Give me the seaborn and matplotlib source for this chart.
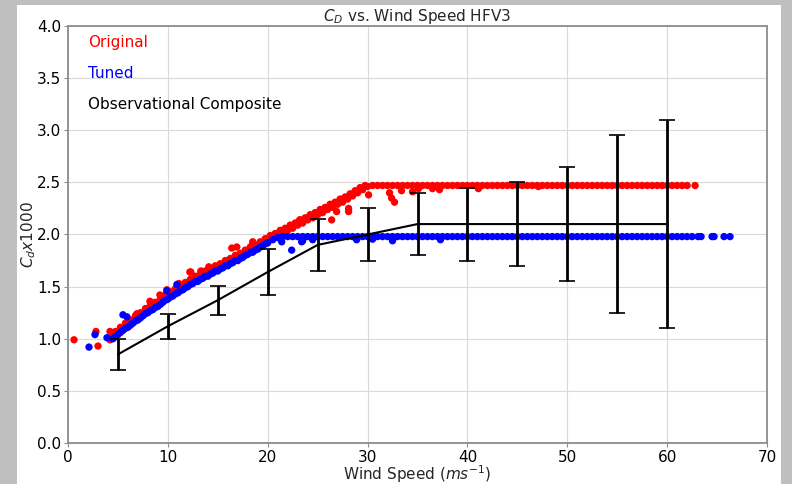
import matplotlib
matplotlib.use("Agg")
import matplotlib.pyplot as plt
from matplotlib.patches import Rectangle
import seaborn as sns
import numpy as np
import pandas as pd

# Original (red) scheme: sloped part, upper edge of the band, flat part, stray points
orig_x = [0.6, 2.8, 3.0, 4.2, 4.2,
          4.5, 5.0, 5.5, 6.0, 6.5, 7.0, 7.5, 8.0, 8.5, 9.0, 9.5, 10.0, 10.5, 11.0, 11.5, 12.0,
          12.5, 13.0, 13.5, 14.0, 14.5, 15.0, 15.5, 16.0, 16.5, 17.0, 17.5, 18.0, 18.5, 19.0,
          19.5, 20.0, 20.5, 21.0, 21.5, 22.0, 22.5, 23.0, 23.5, 24.0, 24.5, 25.0, 25.5, 26.0,
          26.5, 27.0, 27.5, 28.0, 28.5, 29.0, 29.5, 30.0,
          4.75, 5.25, 5.75, 6.25, 6.75, 7.25, 7.75, 8.25, 8.75, 9.25, 9.75, 10.25, 10.75, 11.25,
          11.75, 12.25, 12.75, 13.25, 13.75, 14.25, 14.75, 15.25, 15.75, 16.25, 16.75, 17.25,
          17.75, 18.25, 18.75, 19.25, 19.75, 20.25, 20.75, 21.25, 21.75, 22.25, 22.75, 23.25,
          23.75, 24.25, 24.75, 25.25, 25.75, 26.25, 26.75, 27.25, 27.75, 28.25, 28.75, 29.25,
          29.75,
          30.5, 31.0, 31.5, 32.0, 32.5, 33.0, 33.5, 34.0, 34.5, 35.0, 35.5, 36.0, 36.5, 37.0,
          37.5, 38.0, 38.5, 39.0, 39.5, 40.0, 40.5, 41.0, 41.5, 42.0, 42.5, 43.0, 43.5, 44.0,
          44.5, 45.0, 45.5, 46.0, 46.5, 47.0, 47.5, 48.0, 48.5, 49.0, 49.5, 50.0, 50.5, 51.0,
          51.5, 52.0, 52.5, 53.0, 53.5, 54.0, 54.5, 55.0, 55.5, 56.0, 56.5, 57.0, 57.5, 58.0,
          58.5, 59.0, 59.5, 60.0, 60.5, 61.0, 61.5, 62.0, 62.8,
          6.9, 8.2, 9.2, 9.9, 11.1, 12.2, 12.3, 13.3, 14.1, 16.4, 16.9, 18.5, 18.5, 23.2, 26.4,
          26.9, 28.1, 28.1, 30.1, 32.2, 32.4, 32.7, 33.4, 34.5, 35.1, 36.5, 37.2, 41.1, 47.1]
orig_y = [0.99, 1.07, 0.93, 1.07, 0.99,
          1.02, 1.06, 1.10, 1.13, 1.17, 1.20, 1.24, 1.27, 1.30, 1.33, 1.37, 1.40, 1.43, 1.46,
          1.49, 1.52, 1.55, 1.57, 1.60, 1.62, 1.65, 1.67, 1.70, 1.72, 1.75, 1.77, 1.80, 1.83,
          1.85, 1.88, 1.91, 1.94, 1.96, 1.99, 2.01, 2.04, 2.06, 2.09, 2.11, 2.14, 2.16, 2.19,
          2.21, 2.24, 2.26, 2.29, 2.31, 2.34, 2.37, 2.40, 2.43, 2.46,
          1.07, 1.11, 1.15, 1.18, 1.22, 1.25, 1.29, 1.32, 1.35, 1.38, 1.42, 1.45, 1.48, 1.51,
          1.54, 1.57, 1.60, 1.62, 1.65, 1.67, 1.70, 1.72, 1.75, 1.77, 1.80, 1.82, 1.85, 1.88,
          1.90, 1.93, 1.96, 1.99, 2.01, 2.04, 2.06, 2.09, 2.11, 2.14, 2.16, 2.19, 2.21, 2.24,
          2.26, 2.29, 2.31, 2.34, 2.36, 2.39, 2.42, 2.45, 2.47,
          2.47, 2.47, 2.47, 2.47, 2.47, 2.47, 2.47, 2.47, 2.47, 2.47, 2.47, 2.47, 2.47, 2.47,
          2.47, 2.47, 2.47, 2.47, 2.47, 2.47, 2.47, 2.47, 2.47, 2.47, 2.47, 2.47, 2.47, 2.47,
          2.47, 2.47, 2.47, 2.47, 2.47, 2.47, 2.47, 2.47, 2.47, 2.47, 2.47, 2.47, 2.47, 2.47,
          2.47, 2.47, 2.47, 2.47, 2.47, 2.47, 2.47, 2.47, 2.47, 2.47, 2.47, 2.47, 2.47, 2.47,
          2.47, 2.47, 2.47, 2.47, 2.47, 2.47, 2.47, 2.47, 2.47,
          1.24, 1.36, 1.42, 1.47, 1.53, 1.64, 1.64, 1.65, 1.69, 1.87, 1.88, 1.92, 1.93, 2.14,
          2.14, 2.22, 2.25, 2.22, 2.38, 2.40, 2.35, 2.31, 2.42, 2.41, 2.44, 2.44, 2.43, 2.44, 2.46]

# Tuned (blue) scheme
tuned_x = [2.1, 2.7, 3.9, 5.5, 5.9, 10.9, 9.9,
           4.5, 5.0, 5.5, 6.0, 6.5, 7.0, 7.5, 8.0, 8.5, 9.0, 9.5, 10.0, 10.5, 11.0, 11.5, 12.0,
           12.5, 13.0, 13.5, 14.0, 14.5, 15.0, 15.5, 16.0, 16.5, 17.0, 17.5, 18.0, 18.5, 19.0,
           19.5, 20.0,
           4.75, 5.25, 5.75, 6.25, 6.75, 7.25, 7.75, 8.25, 8.75, 9.25, 9.75, 10.25, 10.75, 11.25,
           11.75, 12.25, 12.75, 13.25, 13.75, 14.25, 14.75, 15.25, 15.75, 16.25, 16.75, 17.25,
           17.75, 18.25, 18.75, 19.25, 19.75,
           20.5, 21.0, 21.5, 22.0, 22.5, 23.0, 23.5, 24.0, 24.5, 25.0, 25.5, 26.0, 26.5, 27.0,
           27.5, 28.0, 28.5, 29.0, 29.5, 30.0, 30.5, 31.0, 31.5, 32.0, 32.5, 33.0, 33.5, 34.0,
           34.5, 35.0, 35.5, 36.0, 36.5, 37.0, 37.5, 38.0, 38.5, 39.0, 39.5, 40.0, 40.5, 41.0,
           41.5, 42.0, 42.5, 43.0, 43.5, 44.0, 44.5, 45.0, 45.5, 46.0, 46.5, 47.0, 47.5, 48.0,
           48.5, 49.0, 49.5, 50.0, 50.5, 51.0, 51.5, 52.0, 52.5, 53.0, 53.5, 54.0, 54.5, 55.0,
           55.5, 56.0, 56.5, 57.0, 57.5, 58.0, 58.5, 59.0, 59.5, 60.0, 60.5, 61.0, 61.5, 62.0,
           62.5, 63.1, 63.4, 64.5, 64.7, 65.7, 66.3,
           21.4, 22.4, 23.4, 23.5, 24.5, 28.9, 30.5, 32.5, 37.3]
tuned_y = [0.92, 1.04, 1.01, 1.23, 1.21, 1.52, 1.46,
           1.00, 1.04, 1.08, 1.11, 1.15, 1.18, 1.22, 1.25, 1.28, 1.31, 1.35, 1.38, 1.41, 1.44,
           1.47, 1.50, 1.53, 1.55, 1.58, 1.60, 1.63, 1.65, 1.68, 1.70, 1.73, 1.75, 1.78, 1.81,
           1.83, 1.86, 1.89, 1.92,
           1.02, 1.06, 1.10, 1.13, 1.17, 1.20, 1.24, 1.27, 1.30, 1.33, 1.37, 1.40, 1.43, 1.46,
           1.49, 1.52, 1.55, 1.57, 1.60, 1.62, 1.65, 1.67, 1.70, 1.72, 1.75, 1.77, 1.80, 1.83,
           1.85, 1.88, 1.91,
           1.95, 1.97, 1.98, 1.98, 1.98, 1.98, 1.98, 1.98, 1.98, 1.98, 1.98, 1.98, 1.98, 1.98,
           1.98, 1.98, 1.98, 1.98, 1.98, 1.98, 1.98, 1.98, 1.98, 1.98, 1.98, 1.98, 1.98, 1.98,
           1.98, 1.98, 1.98, 1.98, 1.98, 1.98, 1.98, 1.98, 1.98, 1.98, 1.98, 1.98, 1.98, 1.98,
           1.98, 1.98, 1.98, 1.98, 1.98, 1.98, 1.98, 1.98, 1.98, 1.98, 1.98, 1.98, 1.98, 1.98,
           1.98, 1.98, 1.98, 1.98, 1.98, 1.98, 1.98, 1.98, 1.98, 1.98, 1.98, 1.98, 1.98, 1.98,
           1.98, 1.98, 1.98, 1.98, 1.98, 1.98, 1.98, 1.98, 1.98, 1.98, 1.98, 1.98, 1.98, 1.98,
           1.98, 1.98, 1.98, 1.98, 1.98, 1.98, 1.98,
           1.93, 1.85, 1.93, 1.94, 1.95, 1.95, 1.955, 1.94, 1.95]

# observational composite with error bars
obs_x = [5, 10, 15, 20, 25, 30, 35, 40, 45, 50, 55, 60]
obs_y = [0.85, 1.12, 1.37, 1.64, 1.90, 2.00, 2.10, 2.10, 2.10, 2.10, 2.10, 2.10]
obs_err = [0.15, 0.12, 0.14, 0.22, 0.25, 0.25, 0.30, 0.35, 0.40, 0.55, 0.85, 1.00]

sns.set_style("whitegrid", {"axes.edgecolor": "0.55", "grid.color": "0.85",
                            "xtick.bottom": True, "ytick.left": True,
                            "xtick.color": "0.55", "ytick.color": "0.55"})
plt.rcParams["font.family"] = ["DejaVu Sans"]
plt.rcParams["font.size"] = 11

df = pd.DataFrame({
    "ws": orig_x + tuned_x,
    "cd": orig_y + tuned_y,
    "run": ["Original"] * len(orig_x) + ["Tuned"] * len(tuned_x),
})

fig = plt.figure(figsize=(7.92, 4.84), dpi=100, facecolor="#bfbfbf")
fig.patches.append(Rectangle((0.0215, 0.0), 0.9645, 0.99, transform=fig.transFigure,
                             facecolor="white", edgecolor="none", zorder=-10))
ax = fig.add_axes([0.0859, 0.0847, 0.8825, 0.8616])

sns.scatterplot(data=df, x="ws", y="cd", hue="run",
                palette={"Original": "red", "Tuned": "blue"},
                s=28, linewidth=0, ax=ax, legend=False)
ax.errorbar(obs_x, obs_y, yerr=obs_err, color="black", lw=1.5, elinewidth=2,
            capsize=6, capthick=1.2, label="Observational Composite")

ax.set_xlim(0, 70)
ax.set_ylim(0, 4)
ax.set_yticks(np.arange(0, 4.01, 0.5))
ax.tick_params(labelcolor="black", labelsize=11, length=3, pad=2)
for sp in ax.spines.values():
    sp.set_linewidth(1.3)
ax.set_title("$C_D$ vs. Wind Speed HFV3", fontsize=11, pad=2)
ax.set_xlabel("Wind Speed ($ms^{-1}$)", fontsize=11, labelpad=-1)
ax.set_ylabel("$C_d x1000$", fontsize=11, labelpad=-1)

# text-only legend
ax.text(0.029, 0.961, "Original", color="red", transform=ax.transAxes, fontsize=11, va="center")
ax.text(0.029, 0.886, "Tuned", color="blue", transform=ax.transAxes, fontsize=11, va="center")
ax.text(0.029, 0.811, "Observational Composite", color="black", transform=ax.transAxes,
        fontsize=11, va="center")

fig.savefig("out.png", dpi=100, facecolor=fig.get_facecolor())
